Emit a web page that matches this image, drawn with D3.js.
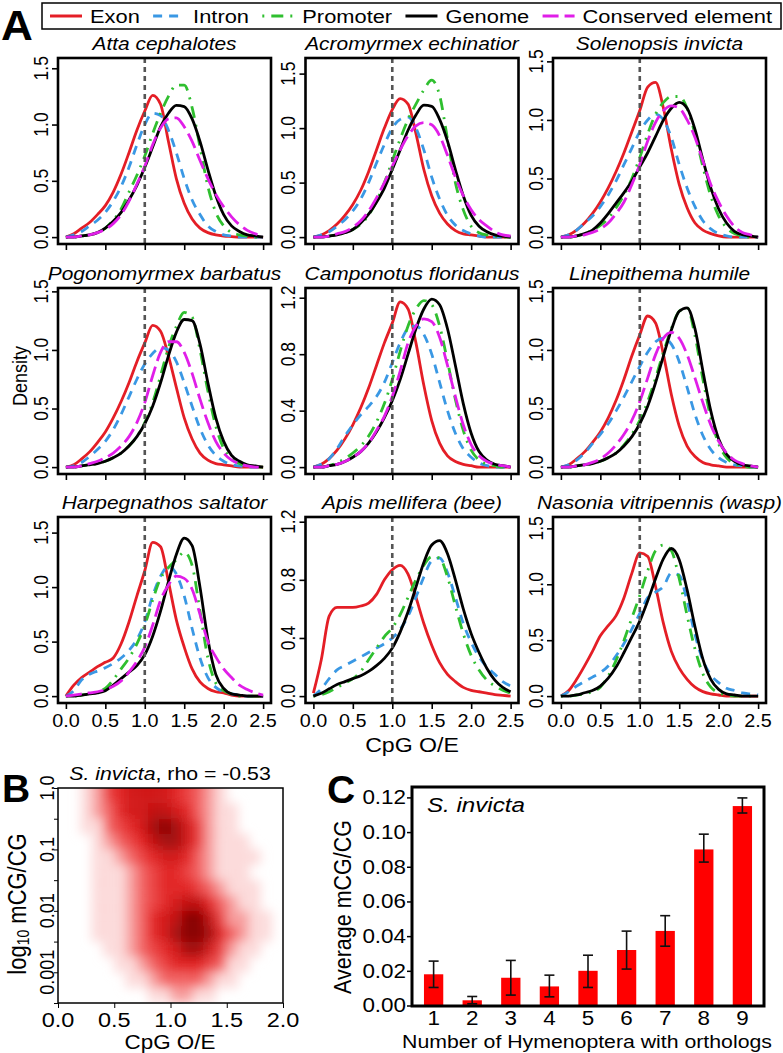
<!DOCTYPE html>
<html>
<head>
<meta charset="utf-8">
<script src="https://cdnjs.cloudflare.com/ajax/libs/d3/7.8.5/d3.min.js"></script>
<style>
  body { margin: 0; background: #fff; }
  svg { display: block; }
  text { font-family: "Liberation Sans", Arial, Helvetica, sans-serif; fill: #000; }
</style>
</head>
<body>
<div id="fig"></div>
<script>
/*global d3*/

// ---- panel A : CpG O/E densities ----
const species = ["Atta cephalotes", "Acromyrmex echinatior", "Solenopsis invicta",
  "Pogonomyrmex barbatus", "Camponotus floridanus", "Linepithema humile",
  "Harpegnathos saltator", "Apis mellifera (bee)", "Nasonia vitripennis (wasp)"];
const features = ["Exon", "Intron", "Promoter", "Genome", "Conserved element"];
const cpgGrid = [0, 0.1, 0.2, 0.3, 0.4, 0.5, 0.6, 0.7, 0.8, 0.9, 1.0, 1.1, 1.2,
  1.3, 1.4, 1.5, 1.6, 1.7, 1.8, 1.9, 2.0, 2.1, 2.2, 2.3, 2.4, 2.5];

const exonDensity = [
  [0,.03,.08,.13,.2,.28,.4,.56,.75,.95,1.12,1.26,1.18,.85,.52,.3,.16,.08,.04,.02,.01,.005,0,0,0,0],
  [0,.02,.06,.12,.2,.3,.43,.6,.8,1.0,1.17,1.27,1.22,.95,.62,.38,.22,.12,.06,.03,.02,.01,0,0,0,0],
  [0,.02,.06,.12,.2,.3,.42,.56,.72,.9,1.08,1.28,1.32,1.1,.75,.45,.25,.12,.06,.03,.01,0,0,0,0,0],
  [0,.02,.07,.13,.21,.3,.42,.56,.72,.9,1.06,1.21,1.16,.95,.68,.42,.24,.12,.06,.03,.02,.01,0,0,0,0],
  [0,.02,.06,.12,.2,.3,.42,.56,.72,.88,1.02,1.17,1.12,.88,.58,.33,.17,.08,.04,.02,.01,0,0,0,0,0],
  [0,.02,.07,.13,.21,.3,.42,.57,.75,.95,1.13,1.29,1.23,.96,.62,.35,.18,.09,.04,.02,.01,0,0,0,0,0],
  [0,.1,.17,.22,.27,.31,.35,.48,.68,.92,1.15,1.41,1.37,1.05,.7,.45,.25,.13,.07,.04,.03,.01,0,0,0,0],
  [.02,.25,.55,.61,.61,.61,.62,.64,.7,.8,.87,.9,.84,.68,.5,.35,.23,.15,.1,.06,.04,.03,.02,.01,.005,0],
  [0,.05,.15,.27,.4,.54,.63,.72,.88,1.1,1.28,1.25,.98,.65,.4,.25,.15,.08,.04,.02,.01,0,0,0,0,0]
];
const intronDensity = [
  [0,.02,.05,.1,.15,.22,.32,.45,.62,.82,1.0,1.1,1.08,.95,.75,.52,.33,.2,.1,.05,.02,.01,0,0,0,0],
  [0,.02,.05,.1,.16,.24,.35,.5,.68,.85,1.0,1.08,1.1,1.0,.8,.55,.35,.2,.11,.06,.03,.01,0,0,0,0],
  [0,.02,.06,.12,.18,.26,.36,.48,.62,.76,.9,1.0,1.05,1.0,.85,.62,.42,.26,.14,.07,.03,.01,0,0,0,0],
  [0,.01,.04,.09,.15,.22,.32,.45,.6,.75,.88,.97,1.02,1.0,.9,.72,.52,.33,.19,.1,.05,.02,.01,0,0,0],
  [0,.02,.06,.13,.22,.3,.37,.43,.5,.6,.74,.88,.98,1.0,.94,.8,.6,.4,.24,.13,.07,.03,.01,0,0,0],
  [0,.02,.06,.12,.2,.28,.37,.48,.6,.73,.86,.98,1.07,1.1,1.05,.9,.68,.45,.27,.15,.08,.04,.02,.01,0,0],
  [0,.05,.15,.2,.23,.26,.3,.35,.42,.52,.68,.92,1.1,1.19,1.12,.92,.62,.35,.17,.08,.04,.02,.01,0,0,0],
  [0,.05,.12,.18,.21,.24,.27,.3,.33,.36,.4,.46,.55,.68,.82,.93,.95,.85,.68,.5,.37,.27,.2,.15,.1,.07],
  [0,.04,.09,.13,.17,.21,.27,.36,.47,.6,.74,.88,.93,.98,1.1,1.08,.85,.55,.32,.19,.12,.07,.05,.03,.02,.01]
];
const promoterDensity = [
  [0,0,.01,.02,.04,.08,.15,.25,.4,.55,.72,.92,1.1,1.25,1.35,1.35,1.15,.8,.45,.22,.1,.04,.02,.01,0,0],
  [0,0,.01,.02,.04,.07,.12,.2,.33,.5,.7,.9,1.08,1.22,1.35,1.44,1.3,.9,.5,.25,.1,.04,.02,.01,0,0],
  [0,0,.01,.03,.06,.1,.16,.25,.36,.5,.68,.88,1.05,1.15,1.2,1.2,1.1,.88,.6,.35,.18,.08,.03,.01,0,0],
  [0,0,.01,.02,.03,.05,.08,.12,.18,.26,.38,.55,.78,1.02,1.2,1.32,1.28,1.0,.65,.35,.16,.07,.03,.01,0,0],
  [0,0,.01,.03,.06,.1,.15,.22,.32,.45,.62,.82,1.0,1.12,1.18,1.15,1.0,.75,.48,.26,.12,.05,.02,.01,0,0],
  [0,0,.01,.02,.03,.05,.08,.12,.19,.28,.4,.56,.76,.98,1.18,1.33,1.36,1.12,.75,.42,.2,.08,.03,.01,0,0],
  [0,0,.01,.02,.04,.07,.15,.25,.35,.48,.65,.88,1.08,1.18,1.25,1.32,1.2,.78,.35,.12,.05,.02,0,0,0,0],
  [0,.01,.03,.06,.09,.12,.17,.25,.33,.41,.47,.56,.68,.8,.9,.96,.95,.82,.62,.43,.28,.18,.11,.07,.04,.02],
  [0,0,.01,.02,.04,.08,.18,.32,.5,.7,.9,1.12,1.3,1.35,1.3,1.05,.72,.42,.2,.08,.03,.01,0,0,0,0]
];
const genomeDensity = [
  [0,0,.01,.02,.04,.08,.14,.22,.33,.46,.62,.8,.98,1.1,1.17,1.16,1.05,.85,.6,.37,.2,.1,.05,.02,.01,0],
  [0,0,.01,.02,.04,.07,.13,.21,.32,.45,.62,.8,.98,1.12,1.21,1.2,1.08,.88,.62,.38,.2,.1,.05,.02,.01,0],
  [0,0,.01,.03,.06,.12,.2,.29,.38,.48,.6,.72,.86,1.0,1.1,1.15,1.1,.92,.66,.42,.24,.12,.05,.02,.01,0],
  [0,0,.01,.02,.03,.05,.08,.12,.18,.26,.37,.52,.72,.95,1.15,1.26,1.25,1.05,.72,.42,.22,.1,.05,.02,.01,0],
  [0,0,.01,.02,.04,.07,.11,.17,.25,.35,.47,.62,.8,.98,1.12,1.19,1.15,.98,.72,.45,.24,.11,.05,.02,.01,0],
  [0,0,.01,.02,.03,.05,.08,.12,.18,.26,.37,.52,.72,.95,1.17,1.33,1.36,1.18,.82,.48,.24,.11,.05,.02,.01,0],
  [0,0,.01,.02,.03,.05,.1,.16,.22,.28,.38,.55,.78,1.05,1.3,1.45,1.38,1.0,.52,.2,.07,.02,.01,0,0,0],
  [0,.02,.05,.08,.1,.12,.14,.17,.21,.26,.33,.44,.58,.75,.92,1.04,1.07,.98,.8,.6,.43,.3,.19,.11,.06,.03],
  [0,0,.01,.03,.05,.09,.16,.26,.39,.53,.67,.85,1.05,1.23,1.32,1.22,.95,.62,.33,.15,.06,.02,.01,0,0,0]
];
const conservedDensity = [
  [0,0,.01,.02,.04,.07,.12,.2,.32,.47,.63,.82,.97,1.05,1.06,.98,.85,.68,.52,.38,.27,.18,.11,.06,.03,.01],
  [0,0,.01,.03,.05,.09,.15,.24,.36,.5,.65,.8,.93,1.02,1.05,1.03,.93,.75,.55,.38,.25,.16,.1,.05,.02,.01],
  [0,0,.01,.02,.04,.07,.12,.2,.3,.45,.62,.82,.98,1.08,1.12,1.1,1.0,.85,.65,.45,.3,.18,.09,.04,.02,0],
  [0,0,.01,.03,.05,.08,.12,.18,.26,.38,.55,.78,.98,1.07,1.07,.98,.8,.58,.38,.22,.12,.06,.03,.01,0,0],
  [0,0,.01,.02,.04,.07,.11,.17,.26,.36,.5,.68,.88,1.0,1.05,1.03,.92,.72,.5,.3,.16,.08,.04,.02,.01,0],
  [0,0,.01,.02,.04,.07,.12,.19,.28,.4,.56,.76,.96,1.1,1.15,1.1,.96,.76,.55,.36,.22,.12,.06,.03,.01,0],
  [0,.01,.02,.03,.04,.06,.09,.14,.22,.32,.45,.65,.88,1.02,1.1,1.08,.98,.75,.5,.36,.25,.17,.1,.06,.03,.01],
  null,
  null
];
const panelYMax = [1.53, 1.58, 1.47, 1.47, 1.22, 1.47, 1.58, 1.185, 1.54];
const panelYTicks = [
  [0, .5, 1, 1.5], [0, .5, 1, 1.5], [0, .5, 1, 1.5],
  [0, .5, 1, 1.5], [0, .4, .8, 1.2], [0, .5, 1, 1.5],
  [0, .5, 1, 1.5], [0, .4, .8, 1.2], [0, .5, 1, 1.5]
];
const cpgTicks = [0, 0.5, 1, 1.5, 2, 2.5];

const bCols = [0.05, 0.15, 0.25, 0.35, 0.45, 0.55, 0.65, 0.75, 0.85, 0.95,
  1.05, 1.15, 1.25, 1.35, 1.45, 1.55, 1.65, 1.75, 1.85, 1.95];
const bRows = [-0.125, -0.375, -0.625, -0.875, -1.125, -1.375, -1.625,
  -1.875, -2.125, -2.375, -2.625, -2.875, -3.125, -3.375];   // log10 mCG/CG
const bDensity = [
  [0,0,1,2,4,5,6,6,6,6,5,4,3,2,1,0,0,0,0,0],
  [0,0,1,2,3,5,6,6,7,7,6,5,3,2,1,1,0,0,0,0],
  [0,0,1,1,3,4,5,6,8,9,8,6,4,2,1,1,0,0,0,0],
  [0,0,0,1,2,3,4,5,7,8,8,6,4,2,1,1,1,0,0,0],
  [0,0,0,1,1,2,3,4,5,6,6,5,3,2,1,1,1,1,0,0],
  [0,0,0,1,1,1,2,3,4,5,5,4,3,2,1,1,1,0,0,0],
  [0,0,0,1,1,1,2,3,4,5,5,5,4,3,2,1,1,1,0,0],
  [0,0,0,1,1,1,2,3,4,5,6,7,7,5,3,2,1,1,0,0],
  [0,0,0,1,1,1,2,3,5,6,7,9,9,7,4,2,2,1,1,0],
  [0,0,0,1,1,1,2,3,5,6,8,9,9,8,5,3,2,1,1,0],
  [0,0,0,0,1,1,2,3,4,5,6,8,8,6,4,2,1,1,0,0],
  [0,0,0,0,0,1,1,2,3,4,5,5,5,4,3,1,1,0,0,0],
  [0,0,0,0,0,0,1,1,2,3,3,3,3,2,1,1,0,0,0,0],
  [0,0,0,0,0,0,0,0,1,1,2,2,1,1,0,0,0,0,0,0]
];
const bXTicks = [0, 0.5, 1, 1.5, 2];
const bYTicks = [1, 0.1, 0.01, 0.001];
const bYLabels = ["1.0", "0.1", "0.01", "0.001"];

// ---- panel C : average mCG/CG by ortholog count ----
const orthologCounts = ["1", "2", "3", "4", "5", "6", "7", "8", "9"];
const mcgMean = [0.018, 0.003, 0.016, 0.011, 0.020, 0.032, 0.043, 0.090, 0.115];
const mcgLow  = [0.0104, 0.001, 0.006, 0.005, 0.0104, 0.021, 0.0342, 0.0827, 0.111];
const mcgHigh = [0.0256, 0.0052, 0.026, 0.0175, 0.029, 0.0429, 0.0518, 0.0988, 0.1197];
const cYTicks = [0, 0.02, 0.04, 0.06, 0.08, 0.10, 0.12];

// styles
const featureColor = ["#e41e26", "#3a98e4", "#2fbf2f", "#000000", "#e01ee8"];
const featureDash = [null, "9,7", "2,7,12,7", null, "16,6"];
const SX = 1.15;  // the figure is slightly stretched sideways

const svg = d3.select("#fig").append("svg").attr("width", 783).attr("height", 1053);

function say(g, x, y, str, o = {}) {
  let tr = `translate(${x},${y}) scale(${o.sx ?? SX},1)`;
  if (o.rot) tr += ` rotate(${o.rot})`;
  return g.append("text")
    .attr("transform", tr)
    .attr("text-anchor", o.anchor || "middle")
    .attr("dominant-baseline", o.baseline || "central")
    .attr("font-size", o.size || 17)
    .attr("font-style", o.italic ? "italic" : null)
    .attr("font-weight", o.bold ? "bold" : null)
    .text(str);
}

// letters
say(svg, 1, 40, "A", { anchor: "start", size: 42, bold: true, sx: 1.05, baseline: "auto" });
say(svg, 2, 788, "B", { anchor: "start", size: 39, bold: true, sx: 1 });
say(svg, 327, 789, "C", { anchor: "start", size: 39, bold: true, sx: 1 });

// legend
const legend = svg.append("g");
legend.append("rect").attr("x", 42).attr("y", 3).attr("width", 739).attr("height", 26)
  .attr("fill", "none").attr("stroke", "#000").attr("stroke-width", 1.5);
const legendTexts = features.map(f => say(legend, 0, 16, f, { anchor: "start", size: 19 }));
const legendW = legendTexts.map(t => t.node().getComputedTextLength() * SX);
const legendGap = (772 - 50 - 5 * 40 - d3.sum(legendW)) / 4;
let lx = 50;
features.forEach((f, i) => {
  legend.append("line").attr("x1", lx).attr("x2", lx + 32).attr("y1", 16).attr("y2", 16)
    .attr("stroke", featureColor[i]).attr("stroke-width", 3)
    .attr("stroke-dasharray", featureDash[i]);
  legendTexts[i].attr("transform", `translate(${lx + 40},16) scale(${SX},1)`);
  lx += 40 + legendW[i] + legendGap;
});

// density panels
const colX = [58, 305.5, 553], rowY = [58, 288, 517];
const boxW = 213, boxH = 186;
const fmt1 = d3.format(".1f");

species.forEach((sp, i) => {
  const r = Math.floor(i / 3), c = i % 3;
  const x0 = colX[c], y0 = rowY[r];
  const M = panelYMax[i];
  const x = d3.scaleLinear().domain([-0.1, 2.6]).range([x0, x0 + boxW]);
  const y = d3.scaleLinear().domain([-0.04 * M, 1.04 * M]).range([y0 + boxH, y0]);
  const g = svg.append("g");

  const line = d3.line().x((d, k) => x(cpgGrid[k])).y(d => y(d)).curve(d3.curveMonotoneX);
  const series = [exonDensity[i], intronDensity[i], promoterDensity[i], genomeDensity[i], conservedDensity[i]];
  series.forEach((s, k) => {
    if (!s) return;
    g.append("path").attr("d", line(s)).attr("fill", "none")
      .attr("stroke", featureColor[k]).attr("stroke-width", 2.8)
      .attr("stroke-dasharray", featureDash[k]);
  });

  g.append("line").attr("x1", x(1)).attr("x2", x(1)).attr("y1", y0).attr("y2", y0 + boxH)
    .attr("stroke", "#555").attr("stroke-width", 2.6).attr("stroke-dasharray", "5,4");

  g.append("rect").attr("x", x0).attr("y", y0).attr("width", boxW).attr("height", boxH)
    .attr("fill", "none").attr("stroke", "#000").attr("stroke-width", 2.6);

  g.append("g").attr("transform", `translate(${x0},0)`)
    .call(d3.axisLeft(y).tickValues(panelYTicks[i]).tickSize(6).tickFormat(""))
    .call(a => a.select(".domain").remove())
    .call(a => a.selectAll("line").attr("stroke-width", 1.6));
  g.append("g").attr("transform", `translate(0,${y0 + boxH})`)
    .call(d3.axisBottom(x).tickValues(cpgTicks).tickSize(6).tickFormat(""))
    .call(a => a.select(".domain").remove())
    .call(a => a.selectAll("line").attr("stroke-width", 1.6));

  panelYTicks[i].forEach(v => say(g, x0 - 17, y(v), fmt1(v), { rot: -90, size: 17.5 }));
  if (r === 2) cpgTicks.forEach(v => say(g, x(v), y0 + boxH + 18, fmt1(v), { size: 18, sx: 1.1 }));

  say(g, x0 + boxW / 2, y0 - 8, sp, { italic: true, size: 19, sx: 1.1, baseline: "auto" });
});

say(svg, 20, 376, "Density", { rot: -90, size: 18 });
say(svg, colX[1] + boxW / 2, 745, "CpG O/E", { size: 21, sx: 1.1 });

// panel B
const bx = d3.scaleLinear().domain([0, 2]).range([58, 283]);
const by = d3.scaleLog().domain([Math.pow(10, -3.5), 1]).range([1003, 788]);
const bColor = d3.scaleLinear().domain([0, 1, 3, 5, 7, 9])
  .range(["#ffffff", "#fcdada", "#f26060", "#e22222", "#c01010", "#880000"]);
const defs = svg.append("defs");
defs.append("clipPath").attr("id", "bclip").append("rect")
  .attr("x", 58).attr("y", 788).attr("width", 225).attr("height", 215);
defs.append("filter").attr("id", "bblur").attr("x", "-10%").attr("y", "-10%")
  .attr("width", "120%").attr("height", "120%")
  .append("feGaussianBlur").attr("stdDeviation", 5.5);

const bg = svg.append("g");
const cloud = bg.append("g").attr("clip-path", "url(#bclip)").append("g").attr("filter", "url(#bblur)");
bRows.forEach((lv, ri) => {
  bCols.forEach((xc, ci) => {
    const v = bDensity[ri][ci];
    if (!v) return;
    // the top row runs past the clipped edge so the blur does not fade it
    const top = ri === 0 ? by(1) - 12 : by(Math.pow(10, lv + 0.125));
    cloud.append("rect")
      .attr("x", bx(xc - 0.05)).attr("width", bx(xc + 0.05) - bx(xc - 0.05))
      .attr("y", top)
      .attr("height", by(Math.pow(10, lv - 0.125)) - top)
      .attr("fill", bColor(v));
  });
});
bg.append("rect").attr("x", 58).attr("y", 788).attr("width", 225).attr("height", 215)
  .attr("fill", "none").attr("stroke", "#000").attr("stroke-width", 1.5);
bg.append("g").attr("transform", "translate(58,0)")
  .call(d3.axisLeft(by).tickValues([1, 0.316, 0.1, 0.0316, 0.01, 0.00316, 0.001, 0.000316]).tickSize(4).tickFormat(""))
  .call(a => a.select(".domain").remove());
bg.append("g").attr("transform", "translate(0,1003)")
  .call(d3.axisBottom(bx).tickValues(bXTicks).tickSize(5).tickFormat(""))
  .call(a => a.select(".domain").remove());
bYTicks.forEach((v, k) => say(bg, 47, by(v), bYLabels[k], { rot: -90, size: 18 }));
bXTicks.forEach(v => say(bg, bx(v), 1020, fmt1(v), { size: 21, sx: 1.12 }));
say(bg, 170, 1042, "CpG O/E", { size: 19.5 });
const bt = say(bg, 170, 774, "", { size: 18.5 });
bt.append("tspan").attr("font-style", "italic").text("S. invicta");
bt.append("tspan").text(", rho = -0.53");
const yl = say(bg, 17, 904, "", { rot: -90, size: 22 });
yl.append("tspan").text("log");
yl.append("tspan").attr("font-size", 14).attr("dy", 5).text("10");
yl.append("tspan").attr("dy", -5).text(" mCG/CG");

// panel C
const cx = d3.scaleBand().domain(orthologCounts).range([412, 764]).paddingInner(0.5).paddingOuter(0.31);
const cy = d3.scaleLinear().domain([0, 0.126]).range([1005.5, 787]);
const cg = svg.append("g");
cg.selectAll("rect.bar").data(mcgMean).join("rect").attr("class", "bar")
  .attr("x", (d, k) => cx(orthologCounts[k])).attr("width", cx.bandwidth())
  .attr("y", d => cy(d)).attr("height", d => cy(0) - cy(d))
  .attr("fill", "#ff0000");
orthologCounts.forEach((o, k) => {
  const mx = cx(o) + cx.bandwidth() / 2;
  const eg = cg.append("g").attr("stroke", "#111").attr("stroke-width", 1.6);
  eg.append("line").attr("x1", mx).attr("x2", mx).attr("y1", cy(mcgLow[k])).attr("y2", cy(mcgHigh[k]));
  eg.append("line").attr("x1", mx - 5).attr("x2", mx + 5).attr("y1", cy(mcgLow[k])).attr("y2", cy(mcgLow[k]));
  eg.append("line").attr("x1", mx - 5).attr("x2", mx + 5).attr("y1", cy(mcgHigh[k])).attr("y2", cy(mcgHigh[k]));
  say(cg, mx, 1018, o, { size: 19.5 });
});
cg.append("rect").attr("x", 412).attr("y", 787).attr("width", 352).attr("height", 219)
  .attr("fill", "none").attr("stroke", "#000").attr("stroke-width", 3);
cg.append("g").attr("transform", "translate(412,0)")
  .call(d3.axisLeft(cy).tickValues(cYTicks).tickSize(5).tickFormat(""))
  .call(a => a.select(".domain").remove())
  .call(a => a.selectAll("line").attr("stroke-width", 1.5));
cYTicks.forEach(v => say(cg, 406, cy(v), d3.format(".2f")(v), { anchor: "end", size: 19.5 }));
say(cg, 427, 805, "S. invicta", { anchor: "start", italic: true, size: 21 });
say(cg, 342, 907, "Average mCG/CG", { rot: -90, size: 21.5 });
say(cg, 587, 1042, "Number of Hymenoptera with orthologs", { size: 18.5 });
</script>
</body>
</html>
